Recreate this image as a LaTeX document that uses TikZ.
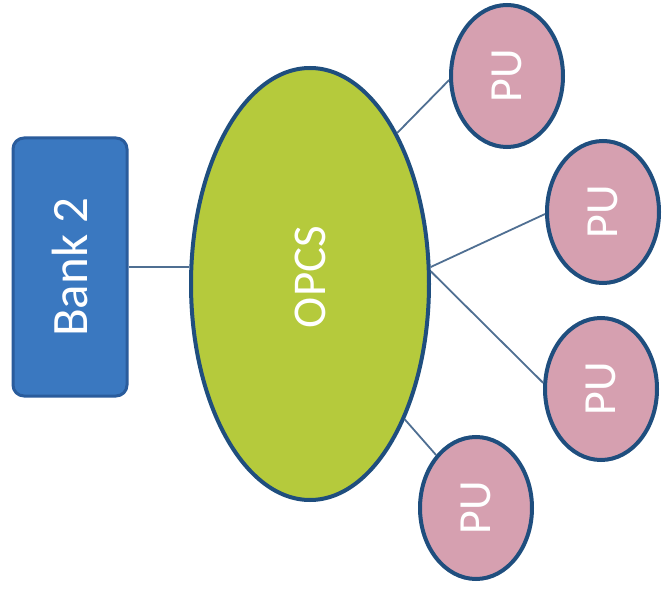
\documentclass[tikz,border=0pt]{standalone}
\usepackage{fontspec}
\setmainfont{Carlito}
\usetikzlibrary{shapes.geometric}
\definecolor{bankblue}{HTML}{3A78C0}
\definecolor{bankedge}{HTML}{2A5C9C}
\definecolor{opcsgreen}{HTML}{B5CA3C}
\definecolor{pupink}{HTML}{D6A0B0}
\definecolor{navy}{HTML}{1F4E7E}
\definecolor{linkc}{HTML}{4F6F92}
\tikzset{
  bankbox/.style={draw=bankedge, fill=bankblue, line width=3pt, rounded corners=11pt,
    minimum width=114pt, minimum height=258pt, inner sep=0pt, text=white,
    font=\fontsize{51}{51}\selectfont},
  opcsnode/.style={ellipse, draw=navy, fill=opcsgreen, line width=4pt,
    minimum width=238pt, minimum height=432pt, inner sep=0pt, text=white,
    font=\fontsize{47}{47}\selectfont},
  punode/.style={ellipse, draw=navy, fill=pupink, line width=4pt,
    minimum width=112pt, minimum height=142pt, inner sep=0pt, text=white,
    font=\fontsize{46}{46}\selectfont},
  link/.style={draw=linkc, line width=1.8pt}
}
\begin{document}
\begin{tikzpicture}[x=1pt,y=-1pt]
\useasboundingbox (0,0) rectangle (662,596);
\fill[white] (0,0) rectangle (662,596);
\node[bankbox] (bank) at (70,267) {\rotatebox{90}{Bank 2}};
\node[opcsnode] (opcs) at (310,284) {\rotatebox{90}{\hspace*{14pt}OPCS}};
\node[punode] (pu1) at (507,76) {\rotatebox{90}{PU}};
\node[punode] (pu2) at (603,212) {\rotatebox{90}{PU}};
\node[punode] (pu3) at (601,389) {\rotatebox{90}{PU}};
\node[punode] (pu4) at (476,508) {\rotatebox{90}{PU}};
\draw[link] (bank.east |- 0,267) -- (opcs.west |- 0,267);
\draw[link] (opcs.60) -- (pu1.184);
\draw[link] (opcs.8) -- (pu2.182);
\draw[link] (opcs.6) -- (pu3.174);
\draw[link] (opcs.-55) -- (pu4.127);
\end{tikzpicture}
\end{document}
